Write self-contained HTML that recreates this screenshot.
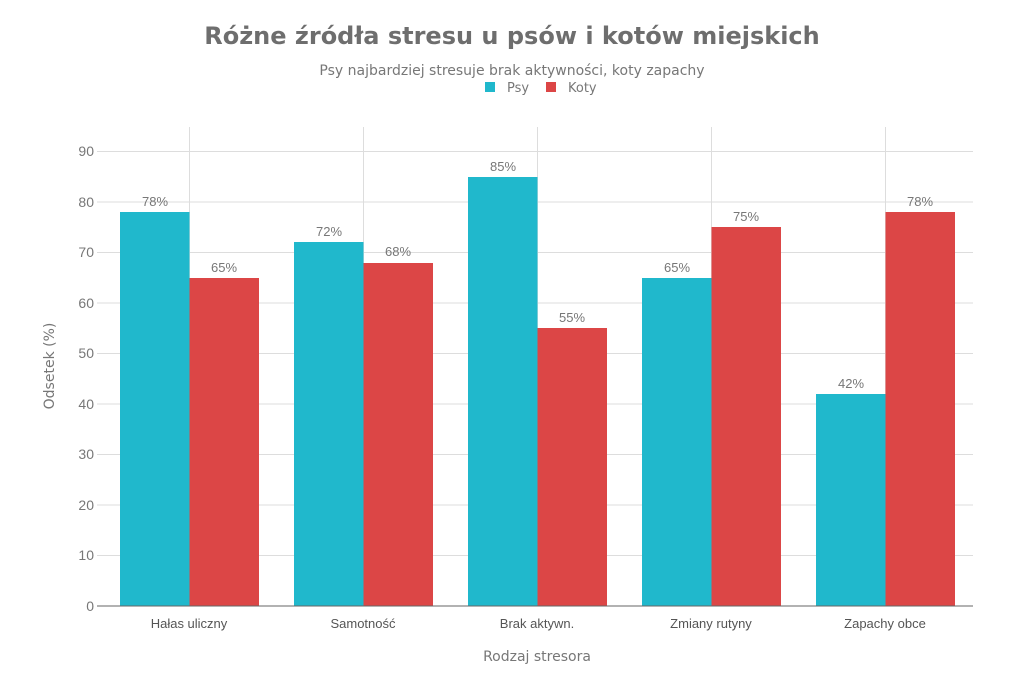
<!DOCTYPE html>
<html><head><meta charset="utf-8"><style>body{margin:0;background:#fff}svg{display:block}</style></head><body>
<svg width="1024" height="683" xmlns="http://www.w3.org/2000/svg" font-family="Liberation Sans, sans-serif">
<text x="512" y="44" text-anchor="middle" font-family="DejaVu Sans, sans-serif" font-weight="bold" font-size="24" fill="#6e6e6e">Różne źródła stresu u psów i kotów miejskich</text>
<text x="512" y="75" text-anchor="middle" font-family="DejaVu Sans, sans-serif" font-size="14" fill="#777">Psy najbardziej stresuje brak aktywności, koty zapachy</text>
<rect x="485" y="82" width="10" height="10" fill="#20b8cc"/>
<text x="507" y="92" font-family="DejaVu Sans, sans-serif" font-size="13" fill="#777">Psy</text>
<rect x="546" y="82" width="10" height="10" fill="#dc4646"/>
<text x="568" y="92" font-family="DejaVu Sans, sans-serif" font-size="13" fill="#777">Koty</text>
<g stroke="#ddd" stroke-width="1">
<line x1="97" x2="973" y1="555.5" y2="555.5"/><line x1="97" x2="973" y1="505" y2="505"/><line x1="97" x2="973" y1="454.5" y2="454.5"/><line x1="97" x2="973" y1="404" y2="404"/><line x1="97" x2="973" y1="353.5" y2="353.5"/><line x1="97" x2="973" y1="303" y2="303"/><line x1="97" x2="973" y1="252.5" y2="252.5"/><line x1="97" x2="973" y1="202" y2="202"/><line x1="97" x2="973" y1="151.5" y2="151.5"/>
<line x1="189.5" x2="189.5" y1="127" y2="606"/><line x1="363.5" x2="363.5" y1="127" y2="606"/><line x1="537.5" x2="537.5" y1="127" y2="606"/><line x1="711.5" x2="711.5" y1="127" y2="606"/><line x1="885.5" x2="885.5" y1="127" y2="606"/>
</g>
<g font-size="14" fill="#777" text-anchor="end">
<text x="94" y="611">0</text><text x="94" y="560">10</text><text x="94" y="510">20</text><text x="94" y="459">30</text><text x="94" y="409">40</text><text x="94" y="358">50</text><text x="94" y="308">60</text><text x="94" y="257">70</text><text x="94" y="207">80</text><text x="94" y="156">90</text>
</g>
<g fill="#20b8cc">
<rect x="120" y="212" width="69.5" height="394"/><rect x="294" y="242" width="69.5" height="364"/><rect x="468" y="177" width="69.5" height="429"/><rect x="642" y="278" width="69.5" height="328"/><rect x="816" y="394" width="69.5" height="212"/>
</g>
<g fill="#dc4646">
<rect x="189.5" y="278" width="69.5" height="328"/><rect x="363.5" y="263" width="69.5" height="343"/><rect x="537.5" y="328" width="69.5" height="278"/><rect x="711.5" y="227" width="69.5" height="379"/><rect x="885.5" y="212" width="69.5" height="394"/>
</g>
<line x1="97" x2="973" y1="606" y2="606" stroke="#666" stroke-width="1"/>
<g font-size="13" fill="#777" text-anchor="middle">
<text x="155" y="206">78%</text><text x="224" y="272">65%</text>
<text x="329" y="236">72%</text><text x="398" y="256">68%</text>
<text x="503" y="171">85%</text><text x="572" y="322">55%</text>
<text x="677" y="272">65%</text><text x="746" y="221">75%</text>
<text x="851" y="388">42%</text><text x="920" y="206">78%</text>
</g>
<g font-size="13" fill="#555" text-anchor="middle">
<text x="189" y="628">Hałas uliczny</text><text x="363" y="628">Samotność</text><text x="537" y="628">Brak aktywn.</text><text x="711" y="628">Zmiany rutyny</text><text x="885" y="628">Zapachy obce</text>
</g>
<text x="537" y="661" text-anchor="middle" font-family="DejaVu Sans, sans-serif" font-size="14" fill="#777">Rodzaj stresora</text>
<text transform="translate(54,366) rotate(-90)" text-anchor="middle" font-family="DejaVu Sans, sans-serif" font-size="14" fill="#777">Odsetek (%)</text>
</svg>
</body></html>
